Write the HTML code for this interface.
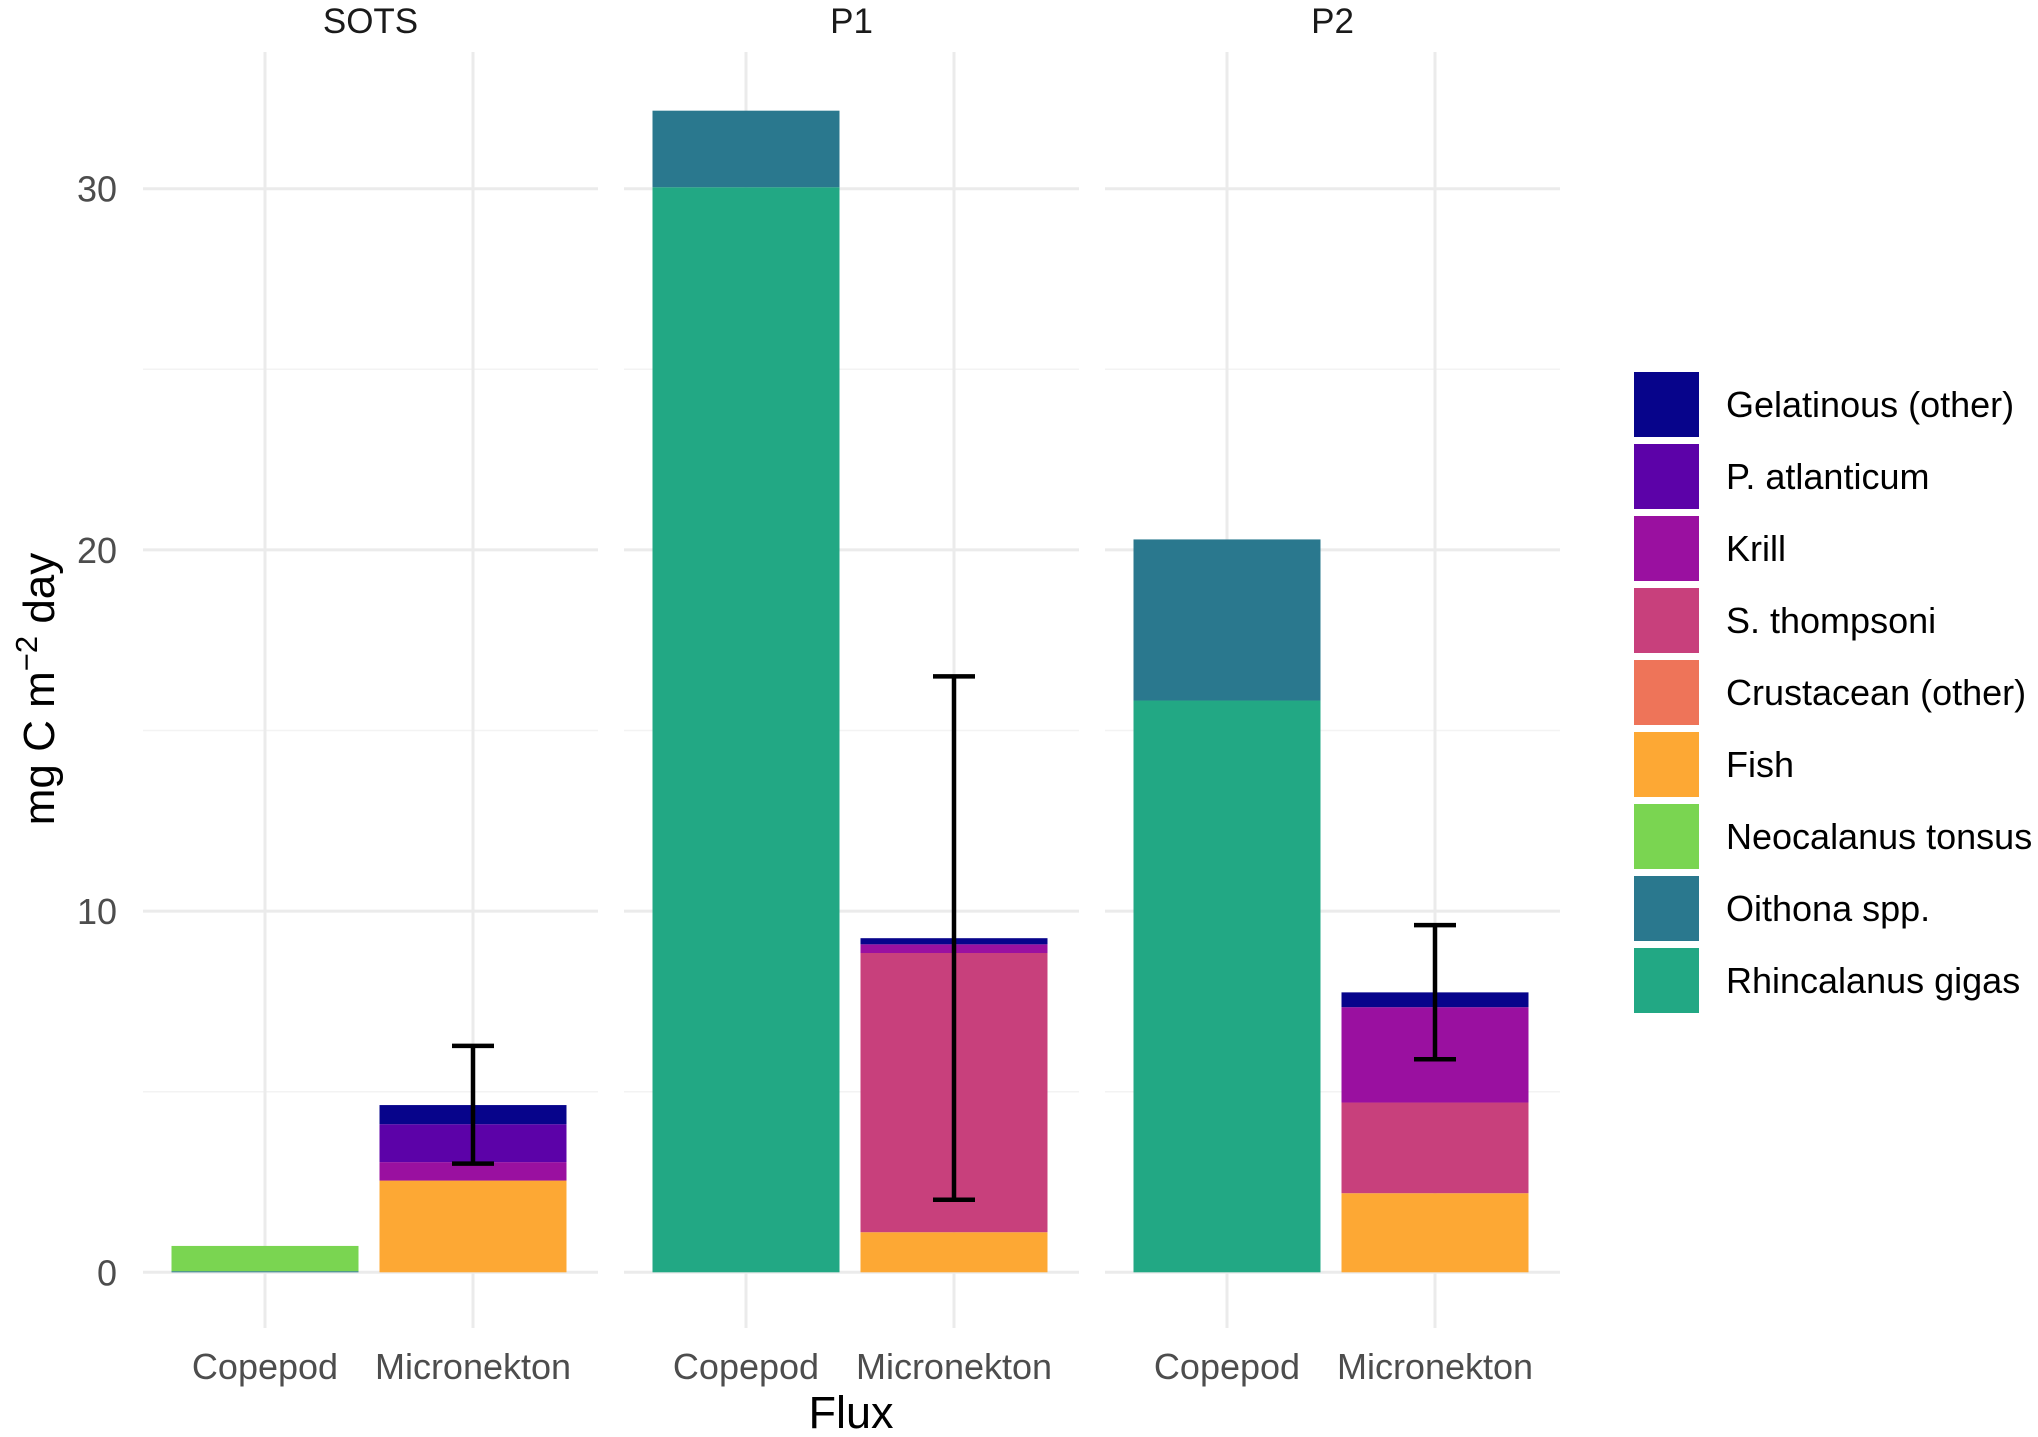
<!DOCTYPE html>
<html><head><meta charset="utf-8"><style>
html,body{margin:0;padding:0;background:#fff;}
svg text{font-family:"Liberation Sans",Arial,sans-serif;}
</style></head><body>
<svg id="chart" width="2038" height="1432" viewBox="0 0 2038 1432" xmlns="http://www.w3.org/2000/svg"></svg>
<script>
const panels = ["SOTS","P1","P2"];
const fluxes = ["Copepod","Micronekton"];
const groups = ["Gelatinous (other)","P. atlanticum","Krill","S. thompsoni","Crustacean (other)","Fish","Neocalanus tonsus","Oithona spp.","Rhincalanus gigas"];
const colors = ["#07048b","#5c02a8","#9a10a0","#c8407c","#ee7459","#fda834","#7ad551","#2a788e","#22a884"];
const sotsCopepod = [0,0,0,0,0,0,0.70,0.03,0];
const sotsMicro   = [0.53,1.05,0.51,0,0,2.54,0,0,0];
const p1Copepod   = [0,0,0,0,0,0,0,2.12,30.04];
const p1Micro     = [0.17,0,0.24,7.73,0,1.11,0,0,0];
const p2Copepod   = [0,0,0,0,0,0,0,4.46,15.83];
const p2Micro     = [0.41,0,2.64,2.51,0,2.19,0,0,0];
const errLow  = [3.01,2.01,5.90];
const errHigh = [6.27,16.5,9.61];
const yTicks = [0,10,20,30];
const yMinor = [5,15,25];
const data = [[sotsCopepod,sotsMicro],[p1Copepod,p1Micro],[p2Copepod,p2Micro]];

const svg = document.getElementById('chart');
const NS = "http://www.w3.org/2000/svg";
function mk(tag, attrs, parent){const e=document.createElementNS(NS,tag);for(const k in attrs)e.setAttribute(k,attrs[k]);(parent||svg).appendChild(e);return e;}
const y0=1272.3, pxPerUnit=36.12;
function yS(v){return y0 - v*pxPerUnit;}
const panelLeft=[143,624,1105], panelW=455;
function xS(p,f){return panelLeft[p] + 122 + f*208;}
const barW=187, gridTop=52, gridBot=1328;

for(let p=0;p<panels.length;p++){
  const L=panelLeft[p];
  yMinor.forEach(v=>{const l=mk('line',{x1:L,x2:L+panelW,y1:yS(v),y2:yS(v),stroke:'#f3f3f3','stroke-width':1.5});
  
  });
  yTicks.forEach(v=>{const l=mk('line',{x1:L,x2:L+panelW,y1:yS(v),y2:yS(v),stroke:'#ebebeb','stroke-width':3});
  
  });
  fluxes.forEach((f,fi)=>{const l=mk('line',{x1:xS(p,fi),x2:xS(p,fi),y1:gridTop,y2:gridBot,stroke:'#ebebeb','stroke-width':3});
  
  
  const t=mk('text',{x:xS(p,fi),y:1379,'text-anchor':'middle','font-size':36,fill:'#4d4d4d'});t.textContent=f;
  
  });
  const st=mk('text',{x:L+panelW/2,y:33,'text-anchor':'middle','font-size':35,fill:'#1a1a1a'});st.textContent=panels[p];
  
  
}
for(let p=0;p<panels.length;p++){
  for(let fi=0;fi<fluxes.length;fi++){
    const vals=data[p][fi]; let cum=0;
    for(let g=groups.length-1;g>=0;g--){
      const v=vals[g]; if(v<=0) continue;
      const r=mk('rect',{x:xS(p,fi)-barW/2,y:yS(cum+v),width:barW,height:v*pxPerUnit,fill:colors[g]});
      
      
      cum+=v;
    }
  }
  const cx=xS(p,1);
  const eb=mk('g',{stroke:'#000','stroke-width':4.5,fill:'none'});
  
  
  mk('line',{x1:cx,x2:cx,y1:yS(errLow[p]),y2:yS(errHigh[p])},eb);
  mk('line',{x1:cx-21,x2:cx+21,y1:yS(errLow[p]),y2:yS(errLow[p])},eb);
  mk('line',{x1:cx-21,x2:cx+21,y1:yS(errHigh[p]),y2:yS(errHigh[p])},eb);
}
yTicks.forEach(v=>{const t=mk('text',{x:117,y:yS(v)+13,'text-anchor':'end','font-size':36,fill:'#4d4d4d'});t.textContent=v;

});
const xt=mk('text',{x:851,y:1428,'text-anchor':'middle','font-size':45,fill:'#000'});xt.textContent='Flux';


const yt=mk('text',{x:0,y:0,'text-anchor':'middle','font-size':44,fill:'#000',transform:'translate(54,689) rotate(-90)'});
yt.innerHTML='mg C m<tspan dy="-17" font-size="31">−2</tspan><tspan dy="17"> day</tspan>';


groups.forEach((g,i)=>{
  const gy=372+i*72;
  const r=mk('rect',{x:1634,y:gy,width:65,height:65,fill:colors[i]});
  
  
  const t=mk('text',{x:1726,y:gy+45,'font-size':36,fill:'#000'});t.textContent=g;
  
  
});
</script>
</body></html>
